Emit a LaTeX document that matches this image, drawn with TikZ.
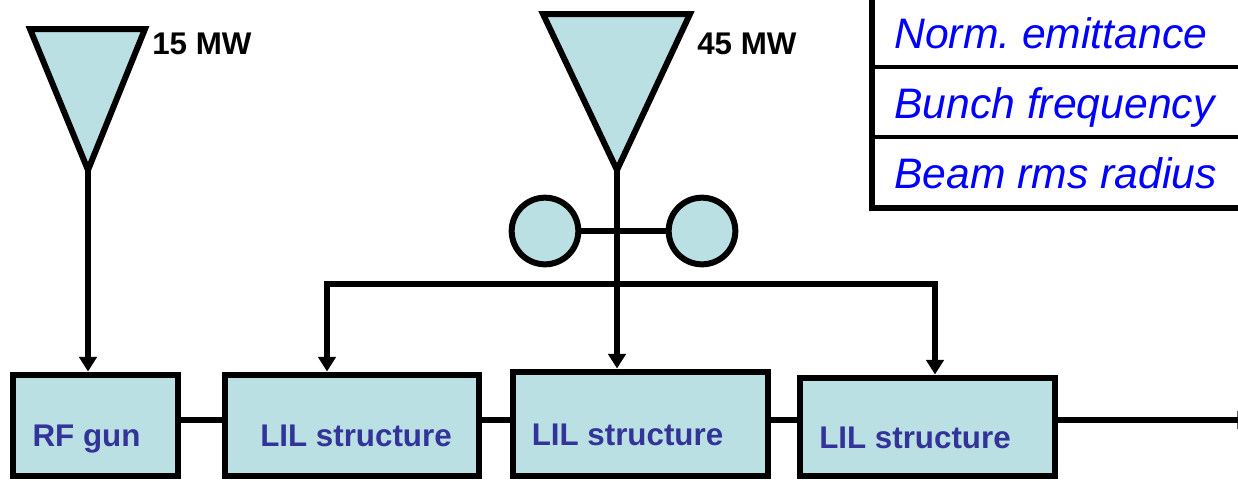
\documentclass[tikz,border=0pt]{standalone}
\usepackage{fontspec}
\setmainfont{Liberation Sans}
\usetikzlibrary{arrows.meta}
\definecolor{cavfill}{RGB}{186,224,227}
\definecolor{boxtext}{RGB}{51,51,153}
\begin{document}
\begin{tikzpicture}[x=0.75pt,y=-0.75pt,
  block/.style={draw,line width=4.5pt,fill=cavfill,inner sep=0pt},
  sz/.style 2 args={minimum width=#1*0.75pt,minimum height=#2*0.75pt},
  lbl/.style={font=\fontsize{23.5}{26}\selectfont\bfseries,text=boxtext,anchor=base,inner sep=0pt},
  pwr/.style={font=\fontsize{23.5}{26}\selectfont\bfseries,anchor=base west,inner sep=0pt},
  param/.style={font=\fontsize{32}{36}\selectfont\itshape,text=blue,anchor=base west,inner sep=0pt},
  wire/.style={line width=4pt},
  feed/.style={wire,-{Triangle[length=11pt,width=13pt]}},
  horn/.style={draw,line width=4.5pt,fill=cavfill,line join=miter},
  splitter/.style={draw,circle,line width=4.5pt,fill=cavfill,minimum size=50pt,inner sep=0pt}]

\useasboundingbox (0,0) rectangle (1238,480);

%parameter table
    \draw[line width=4.5pt] (872,-5) -- (872,208) -- (1245,208);
    \foreach \y in {67,137}
    \draw[line width=2.5pt] (872,\y) -- (1245,\y);
    \node[param] (p1) at (894,48) {Norm.\ emittance};
    \node[param] (p2) at (894,118) {Bunch frequency};
    \node[param] (p3) at (894,188) {Beam rms radius};

%gun and accelerating structures
  \foreach \n/\x/\y/\w/\h in {b1/95/425/165/101, b2/351.5/425/254/101,
                              b3/640/423.5/255/104, b4/927/426.5/255/98}
    \node[block,sz={\w}{\h}] (\n) at (\x,\y) {};
    \node[lbl] (l1) at (86.5,446) {RF gun};
    \node[lbl] (l2) at (356,446) {LIL structure};
    \node[lbl] (l3) at (627.5,445) {LIL structure};
    \node[lbl] (l4) at (915,448) {LIL structure};

%beam line
    \coordinate (rail) at (0,420);
    \coordinate (out) at (1252,420);
    \draw[wire] (b1.east |- rail) -- (b2.west |- rail);
    \draw[wire] (b2.east |- rail) -- (b3.west |- rail);
    \draw[wire] (b3.east |- rail) -- (b4.west |- rail);
    \draw[feed] (b4.east |- rail) -- (out);

%klystrons
    \draw[horn] (30,29) -- (145,29) -- (88,170) -- cycle;
    \draw[horn] (543,14) -- (690,14) -- (617,170) -- cycle;
    \coordinate (h1) at (88,170);
    \coordinate (h2) at (617,170);
    \node[pwr] (w1) at (152,54) {15 MW};
    \node[pwr] (w2) at (697,54) {45 MW};

%rf feeds
    \draw[feed] (h1) -- (b1.north -| h1);
    \node[splitter] (sl) at (545,231) {};
    \node[splitter] (sr) at (702,231) {};
    \draw[wire] (sl) -- (sr);
    \draw[feed] (h2) -- (b3.north -| h2);
    \coordinate (bl) at (327,284);
    \coordinate (br) at (935,284);
    \draw[wire,{Triangle[length=11pt,width=13pt]}-{Triangle[length=11pt,width=13pt]}]
      (b2.north -| bl) -- (bl) -- (br) -- (b4.north -| br);

\end{tikzpicture}
\end{document}
